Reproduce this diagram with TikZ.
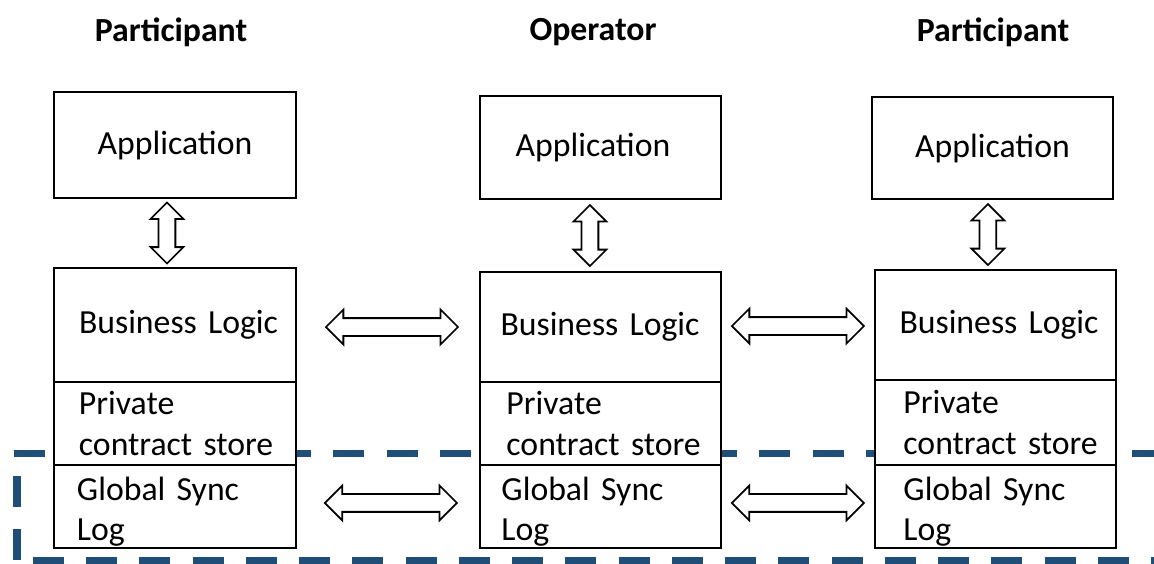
\documentclass[tikz,border=0pt]{standalone}
\usepackage{fontspec}
\setmainfont{Carlito}
\usetikzlibrary{shapes.arrows,positioning}
\definecolor{syncblue}{RGB}{31,78,121}

\begin{document}
\begin{tikzpicture}[scale=0.2]
        \tikzstyle{every node}+=[inner sep=0pt, font=\fontsize{19.2}{22.8}\selectfont]
        \tikzstyle{appbox}=[draw, line width=1.1pt, fill=white, minimum width=4.84cm, outer sep=0pt]
        \tikzset{layer/.style={draw, line width=1.1pt, fill=white, minimum width=4.84cm, text width=4.3cm, align=left, outer sep=0pt, execute at begin node={\leftskip=#1}}, layer/.default=0.22cm}
        \tikzstyle{synclayer}=[text height=19.5pt]
        \tikzstyle{hdr}=[font=\fontsize{19.2}{22.8}\selectfont\bfseries]
        \tikzstyle{dblh}=[double arrow, draw, line width=1pt, fill=white, inner sep=0.16cm, minimum height=2.64cm, double arrow head extend=0.17cm]
        \tikzstyle{dblv}=[double arrow, draw, line width=1pt, fill=white, inner sep=0.15cm, minimum height=1.22cm, double arrow head extend=0.16cm, sloped]
        \tikzstyle{syncframe}=[syncblue, line width=4pt, dash pattern=on 17.6pt off 12.7pt]
        \useasboundingbox (0,0) rectangle (115.4,-56.3);
        \clip (0,0) rectangle (115.4,-56.3);
        % dashed frame round the sync layer
        \draw [syncframe] (1.4,-45.35) -- (115.4,-45.35);
        \draw [syncframe] (1.7,-47.6) -- (1.7,-56.3);
        \draw [syncframe] (3.3,-56.05) -- (115.4,-56.05);
        % column titles
        \node [hdr] (h1) at (17.1,-3.2) {Participant};
        \node [hdr] (h2) at (59.3,-3.2) {Operator};
        \node [hdr] (h3) at (99.3,-3.2) {Participant};
        % applications
        \node [appbox, minimum height=2.12cm] (app1) at (17.5,-14.5) {Application};
        \node [appbox, minimum height=2.06cm, minimum width=4.82cm] (app2) at (60.05,-14.75) {Application\kern0.3cm};
        \node [appbox, minimum height=2.04cm, minimum width=4.82cm] (app3) at (99.25,-14.8) {Application};
        % layer stacks
        \node [layer=0.23cm, minimum height=2.28cm] (bl1) at (17.5,-32.5) {Business Logic};
        \node [layer=0.23cm, minimum height=1.66cm, below=0pt of bl1] (pc1) {Private\\contract store};
        \node [layer=0.19cm, synclayer, minimum height=1.66cm, below=0pt of pc1] (gs1) {Global Sync\\Log};
        \node [layer=0.15cm, minimum height=2.2cm, minimum width=4.82cm] (bl2) at (60.05,-32.7) {Business Logic};
        \node [layer=0.27cm, minimum height=1.66cm, minimum width=4.82cm, below=0pt of bl2] (pc2) {Private\\contract store};
        \node [layer=0.17cm, synclayer, minimum height=1.66cm, minimum width=4.82cm, below=0pt of pc2] (gs2) {Global Sync\\Log};
        \node [layer=0.23cm, minimum height=2.2cm, minimum width=4.82cm] (bl3) at (99.55,-32.5) {Business Logic};
        \node [layer=0.31cm, minimum height=1.7cm, minimum width=4.82cm, below=0pt of bl3] (pc3) {Private\\contract store};
        \node [layer=0.31cm, synclayer, minimum height=1.66cm, minimum width=4.82cm, below=0pt of pc3] (gs3) {Global Sync\\Log};
        % arrows
        \path ([shift={(-0.8,0)}]app1.south) -- node [dblv] (v1) {} ([shift={(-0.8,0)}]bl1.north);
        \path ([shift={(-1.05,0)}]app2.south) -- node [dblv] (v2) {} ([shift={(-1.05,0)}]bl2.north);
        \path ([shift={(-0.45,0)}]app3.south) -- node [dblv] (v3) {} ([shift={(-0.75,0)}]bl3.north);
        \path (bl1.east) -- node [dblh, xshift=0.8mm, yshift=-0.2mm] (b12) {} (bl2.west);
        \path (bl2.east) -- node [dblh] (b23) {} (bl3.west);
        \path (gs1.east) -- node [dblh, xshift=0.6mm, yshift=0.7mm] (g12) {} (gs2.west);
        \path (gs2.east) -- node [dblh, yshift=0.7mm] (g23) {} (gs3.west);
\end{tikzpicture}
\end{document}
